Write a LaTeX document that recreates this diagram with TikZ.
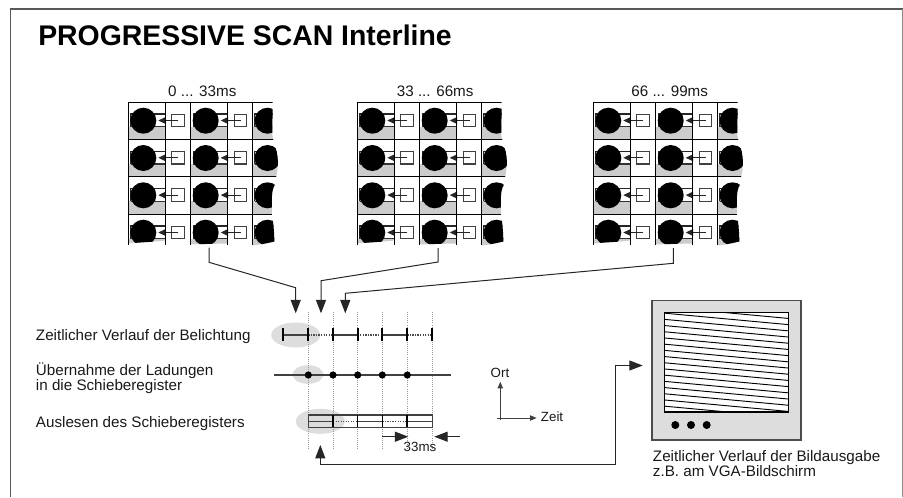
\documentclass[tikz,border=0pt]{standalone}
\usepackage{fontspec}
\setmainfont{Liberation Sans}
\usetikzlibrary{arrows.meta}
\definecolor{cellgray}{HTML}{CCCCCC}
\definecolor{ellgray}{HTML}{DDDDDD}
\tikzset{
  bighead/.style={-{Triangle[length=10pt,width=7.5pt]}, line width=0.75pt, draw=black!85},
  smallhead/.style={-{Triangle[length=5pt,width=4pt]}, line width=0.75pt, draw=black!75},
  txt/.style={inner sep=0pt, anchor=base west, font=\fontsize{11.4pt}{13pt}\selectfont, text=black!90},
  ptxt/.style={inner sep=0pt, anchor=base, font=\fontsize{11.4pt}{13pt}\selectfont, text=black!90},
  stxt/.style={inner sep=0pt, anchor=base, font=\fontsize{10pt}{12pt}\selectfont, text=black!90},
  ell/.style={fill=ellgray, draw=none},
  guide/.style={draw=black!40, densely dotted, line width=0.6pt},
  solidseg/.style={draw=black!75, line width=0.9pt},
  dotseg/.style={draw=black!70, densely dotted, line width=0.9pt},
  tick/.style={draw=black, line width=1.6pt},
  gridline/.style={draw=black, line width=0.75pt},
}
\newcommand{\sensorcell}[2]{% x, y of top-left of the cell
  \fill[cellgray] (#1,#2+24.7) rectangle (#1+37.4,#2+37.3);
  \fill[white] (#1+2.4,#2+12) rectangle (#1+37.4,#2+24.7);
  \draw[line width=0.8pt,draw=black!85] (#1+2.4,#2+24.7) -- (#1+2.4,#2+12) -- (#1+37.4,#2+12);
  \draw[line width=1.1pt,draw=black!80] (#1+2.4,#2+24.7) -- (#1+37.4,#2+24.7);
  \fill[black] (#1+15,#2+18.7) circle[radius=13];
}
\newcommand{\transfer}[2]{%
  \draw[line width=0.8pt,draw=black!75] (#1+43.4,#2+12.3) rectangle (#1+56,#2+24.7);
  \draw[-{Triangle[length=5.5pt,width=5pt]},line width=0.75pt,draw=black!85] (#1+50,#2+18.5) -- (#1+30,#2+18.5);
}
\newcommand{\panelA}{0 {.}{.}{.} 33ms}
\newcommand{\panelB}{33 {.}{.}{.} 66ms}
\newcommand{\panelC}{66 {.}{.}{.} 99ms}
\begin{document}
\begin{tikzpicture}[x=0.75pt,y=-0.75pt]
\useasboundingbox (0,0) rectangle (903,497);
\draw[draw=black!65,line width=0.9pt] (10.3,497) -- (10.3,9) -- (902.7,9);
\draw[draw=black!45,line width=0.9pt] (902.7,9) -- (902.7,497);
\node[inner sep=0pt,anchor=base west,font=\fontsize{21.3pt}{24pt}\selectfont\bfseries] (title) at (38,45) {PROGRESSIVE SCAN Interline};

% sensor panels
\foreach \px/\ptext/\pc/\pname in {128.3/\panelA/202.3/a, 357.3/\panelB/435.2/b, 593.3/\panelC/669.7/c}{
  \node[ptxt] (label\pname) at (\pc,96) {\ptext};
  \begin{scope}[shift={(\px,0)}]
    \begin{scope}
      \clip (0,101) -- (144.4,101) -- (144,135)
        .. controls (144.5,139) and (146,143) .. (147,147)
        .. controls (149,152) and (150,160) .. (149.5,166)
        .. controls (149,172) and (148,176) .. (147.5,178)
        .. controls (147,182) and (147,184) .. (146.5,185)
        .. controls (143,190) and (143.5,200) .. (143.5,214)
        .. controls (145,222) and (146,232) .. (146,241.5)
        .. controls (140,243) and (130,245) .. (124,245.5)
        .. controls (110,243) and (90,243.5) .. (62,244.5)
        .. controls (50,241) and (40,240.5) .. (37,240.5)
        .. controls (25,242) and (15,242) .. (0,243.5) -- cycle;
      \foreach \ry in {102,139.3,176.6,214}{
        \foreach \cx in {0,62.4,124.2}{\sensorcell{\cx}{\ry}}
      }
      \foreach \ry in {102,139.3,176.6,214}{
        \fill[white] (37.4,\ry) rectangle (62.4,\ry+37.3);
        \fill[white] (99.8,\ry) rectangle (124.2,\ry+37.3);
        \draw[gridline] (0,\ry) -- (150,\ry);
        \transfer{0}{\ry}
        \transfer{62.4}{\ry}
      }
    \end{scope}
    \foreach \cx in {0,37.4,62.4,99.4,124.2}{
      \draw[gridline] (\cx,102) -- (\cx,245);
    }
  \end{scope}
}

% timing ellipses
\fill[ell] (295.7,335) ellipse[x radius=24.5,y radius=12.5];
\fill[ell] (308,374.5) ellipse[x radius=15.5,y radius=9.3];
\fill[ell] (320.3,421.3) ellipse[x radius=24.5,y radius=12.5];

% dotted guides
\foreach \x in {308.3,333,357.7,382.3,407.3,432.3}{
  \draw[guide] (\x,311.7) -- (\x,450);
}

% exposure row
\draw[solidseg] (283.3,335) -- (308.3,335);
\draw[dotseg] (308.3,335) -- (333,335);
\draw[solidseg] (333,335) -- (357.7,335);
\draw[dotseg] (357.7,335) -- (382.3,335);
\draw[solidseg] (382.3,335) -- (407.3,335);
\draw[dotseg] (407.3,335) -- (432.3,335);
\foreach \x in {283.3,308.3,333,357.7,382.3,407.3,432.3}{
  \draw[tick] (\x,328.3) -- (\x,340.7);
}

% transfer row
\draw[solidseg] (274,375) -- (450.7,375);
\foreach \x in {308.3,333,357.7,382.3,407.3}{
  \fill[black] (\x,375) circle[radius=3.6];
}

% shift register row
\draw[draw=black!75,line width=0.9pt] (308.3,415) rectangle (432.3,427.3);
\draw[solidseg] (308.3,421.3) -- (333,421.3);
\draw[dotseg] (333,421.3) -- (357.7,421.3);
\draw[solidseg] (357.7,421.3) -- (382.3,421.3);
\draw[dotseg] (382.3,421.3) -- (407.3,421.3);
\draw[solidseg] (407.3,421.3) -- (432.3,421.3);
\foreach \x/\w in {333/1.4,357.7/0.8,382.3/0.8,407.3/1.4}{
  \draw[draw=black,line width=\w pt] (\x,415) -- (\x,427.3);
}

% 33ms dimension
\coordinate (dimA) at (382.3,436.7);
\coordinate (dimAtip) at (408.3,436.7);
\coordinate (dimB) at (460,436.7);
\coordinate (dimBtip) at (434.3,436.7);
\draw[bighead] (dimA) -- (dimAtip);
\draw[bighead] (dimB) -- (dimBtip);
\node[stxt] (dimlabel) at (420,451.7) {33ms};

% connectors from the panels to the time axis
\coordinate (a0) at (209,247.7);
\coordinate (a1) at (209,262.3);
\coordinate (a2) at (295.7,287.7);
\coordinate (a3) at (295.7,313.3);
\coordinate (b0) at (438,248);
\coordinate (b1) at (438,262);
\coordinate (b2) at (321,280.7);
\coordinate (b3) at (321,313.3);
\coordinate (c0) at (673.3,248);
\coordinate (c1) at (673.3,263.3);
\coordinate (c2) at (345.3,293.3);
\coordinate (c3) at (345.3,313.3);
\draw[bighead] (a0) -- (a1) -- (a2) -- (a3);
\draw[bighead] (b0) -- (b1) -- (b2) -- (b3);
\draw[bighead] (c0) -- (c1) -- (c2) -- (c3);

% left labels
\node[txt] (l1) at (35.7,340) {Zeitlicher Verlauf der Belichtung};
\node[txt] (l2) at (35.7,375.3) {Übernahme der Ladungen};
\node[txt] (l3) at (35.7,390.3) {in die Schieberegister};
\node[txt] (l4) at (35.7,427) {Auslesen des Schieberegisters};

% axes
\coordinate (orgx) at (497.3,418);
\coordinate (orgy) at (500.3,420);
\coordinate (xtip) at (536.7,418);
\coordinate (ytip) at (500.3,381.7);
\draw[smallhead] (orgx) -- (xtip);
\draw[smallhead] (orgy) -- (ytip);
\node[stxt] (ort) at (500,377) {Ort};
\node[stxt,anchor=base west] (zeit) at (540.7,421.3) {Zeit};

% monitor
\draw[draw=black!70,fill=ellgray,line width=0.9pt] (652,300.7) rectangle (801,440);
\fill[white] (664.7,312.7) rectangle (788.3,412);
\begin{scope}
  \clip (664.7,312.7) rectangle (788.3,412);
  \foreach \k in {-4,...,20}{
    \draw[black,line width=0.7pt] (664.7,312.7+\k*6.2-5.72) -- (788.3,312.7+\k*6.2+5.72);
  }
\end{scope}
\draw[black,line width=0.9pt] (664.7,312.7) rectangle (788.3,412);
\foreach \x in {675.3,691,706.7}{
  \fill[black] (\x,425) circle[radius=4];
}
\node[txt] (m1) at (652.7,461) {Zeitlicher Verlauf der Bildausgabe};
\node[txt] (m2) at (652.7,476.7) {z.B. am VGA-Bildschirm};

% return connector
\coordinate (r0) at (642.7,365.5);
\coordinate (r1) at (615,365.5);
\coordinate (r2) at (615,464.7);
\coordinate (r3) at (320.3,464.7);
\coordinate (r4) at (320.3,445);
\draw[{Triangle[length=10pt,width=7.5pt]}-{Triangle[length=10pt,width=7.5pt]},line width=0.75pt,draw=black!85] (r4) -- (r3) -- (r2) -- (r1) -- (r0);
\end{tikzpicture}
\end{document}
